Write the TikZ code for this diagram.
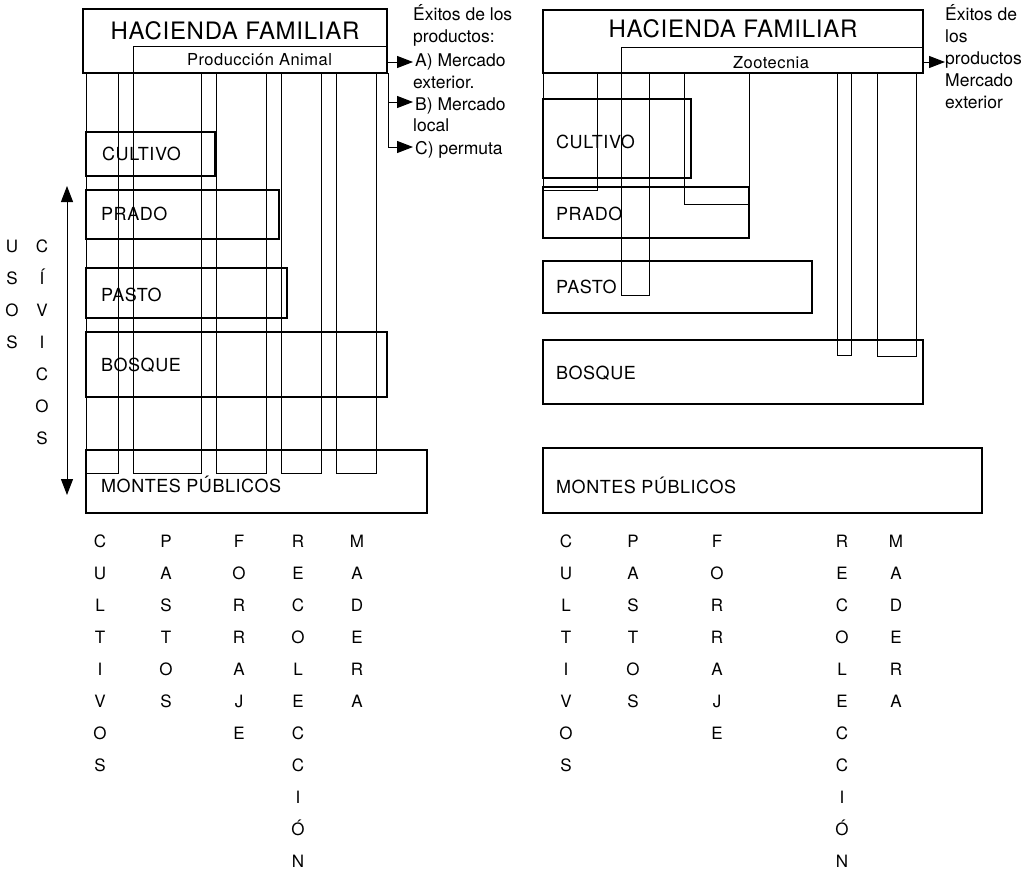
\documentclass[tikz,border=0pt]{standalone}
\usepackage{fontspec}
\setmainfont{TeX Gyre Heros}
\newfontfamily\spaced{TeX Gyre Heros}[LetterSpace=3]
\usetikzlibrary{arrows.meta}
\newcommand\vword[4]{%
  \foreach \l [count=\i] in {#4} {\node[vl] (#1-\i) at (#2, {#3+32*(\i-1)}) {\l};}}
\begin{document}
\begin{tikzpicture}[x=1pt,y=-1pt,
  thickbox/.style={line width=2.6pt},
  thinline/.style={line width=1pt},
  lbl/.style={anchor=base west, inner sep=0pt, font=\spaced\fontsize{18}{18}\selectfont},
  title/.style={anchor=base, inner sep=0pt, font=\spaced\fontsize{24}{24}\selectfont},
  sub/.style={anchor=base, inner sep=0pt, font=\spaced\fontsize{16.5}{16.5}\selectfont},
  note/.style={anchor=base west, inner sep=0pt, font=\fontsize{17.5}{17.5}\selectfont},
  vl/.style={anchor=base, inner sep=0pt, font=\spaced\fontsize{17}{17}\selectfont},
  arr/.style={thinline, -{Triangle[length=16pt,width=12pt]}},
  darr/.style={thinline, {Triangle[length=16pt,width=12pt]}-{Triangle[length=16pt,width=12pt]}}]
\useasboundingbox (0,0) rectangle (1030,870);
\clip (0,0) rectangle (1030,870);

% ================= LEFT PANEL =================
% columns (thin, open at top)
\draw[thinline] (86,73) -- (86,473) -- (118,473) -- (118,73);
\draw[thinline] (133,73) -- (133,473) -- (201,473) -- (201,73);
\draw[thinline] (216,73) -- (216,473) -- (266,473) -- (266,73);
\draw[thinline] (281,73) -- (281,473) -- (321,473) -- (321,73);
\draw[thinline] (336,73) -- (336,473) -- (376,473) -- (376,73);
% header
\draw[thickbox] (83,9) rectangle (387,73);
\draw[thinline] (133,46) rectangle (387,73);
\node[title] (lhf) at (235,39) {HACIENDA FAMILIAR};
\node[sub] (lpa) at (259.5,65) {Producción Animal};
% land boxes
\draw[thickbox] (86,132) rectangle (215,176);
\draw[thickbox] (86,190) rectangle (279,239);
\draw[thickbox] (86,268) rectangle (287,318);
\draw[thickbox] (86,332) rectangle (387,397);
\draw[thickbox] (86,450) rectangle (427,513);
\node[lbl] (lcul) at (102,160) {CULTIVO};
\node[lbl] (lpra) at (101,220) {PRADO};
\node[lbl] (lpas) at (101,301) {PASTO};
\node[lbl] (lbos) at (101,371) {BOSQUE};
\node[lbl] (lmon) at (101,492) {MONTES PÚBLICOS};
% usos civicos
\coordinate (utop) at (67,186);
\coordinate (ubot) at (67,495);
\draw[darr] (utop) -- (ubot);
\vword{usos}{12}{252}{U,S,O,S}
\vword{civ}{42}{252}{C,Í,V,I,C,O,S}
% annotations
\node[note] (ln1) at (413,20) {Éxitos de los};
\node[note] (ln2) at (413,42.5) {productos:};
\node[note] (lna) at (415,66) {A) Mercado};
\node[note] (ln4) at (413,88.5) {exterior.};
\node[note] (lnb) at (415,110) {B) Mercado};
\node[note] (ln6) at (413,131) {local};
\node[note] (lnc) at (415,154) {C) permuta};
\coordinate (lja) at (387,62);
\coordinate (ljt) at (388,73);
\coordinate (ljb) at (388,102);
\coordinate (ljc) at (388,147);
\draw[arr] (lja) -- (413,62);
\draw[thinline] (ljt) -- (ljc);
\draw[arr] (ljb) -- (413,102);
\draw[arr] (ljc) -- (413,147);
% bottom letters
\vword{lc}{100}{547}{C,U,L,T,I,V,O,S}
\vword{lp}{166}{547}{P,A,S,T,O,S}
\vword{lf}{239}{547}{F,O,R,R,A,J,E}
\vword{lr}{298}{547}{R,E,C,O,L,E,C,C,I,Ó,N}
\vword{lm}{357}{547}{M,A,D,E,R,A}

% ================= RIGHT PANEL =================
\draw[thinline] (543,73) -- (543,190) -- (597,190) -- (597,73);
\draw[thinline] (621,73) -- (621,295) -- (649,295) -- (649,73);
\draw[thinline] (684,73) -- (684,204) -- (749,204) -- (749,73);
\draw[thinline] (837,73) -- (837,355) -- (851,355) -- (851,73);
\draw[thinline] (877,73) -- (877,356) -- (916,356) -- (916,73);
\draw[thickbox] (543,10) rectangle (923,73);
\draw[thinline] (621,47) rectangle (923,73);
\node[title] (rhf) at (733,37) {HACIENDA FAMILIAR};
\node[sub] (rzo) at (771,68) {Zootecnia};
\draw[thickbox] (543,99) rectangle (691,178);
\draw[thickbox] (543,187) rectangle (749,238);
\draw[thickbox] (543,261) rectangle (812,313);
\draw[thickbox] (543,340) rectangle (923,404);
\draw[thickbox] (543,448) rectangle (982,513);
\node[lbl] (rcul) at (556,148) {CULTIVO};
\node[lbl] (rpra) at (556,220) {PRADO};
\node[lbl] (rpas) at (556,293) {PASTO};
\node[lbl] (rbos) at (556,379) {BOSQUE};
\node[lbl] (rmon) at (556,493) {MONTES PÚBLICOS};
% annotation
\node[note] (rn1) at (945,20) {Éxitos de};
\node[note] (rn2) at (945,42) {los};
\node[note] (rn3) at (945,64.5) {productos};
\node[note] (rn4) at (945,86.5) {Mercado};
\node[note] (rn5) at (945,108.5) {exterior};
\coordinate (rja) at (923,62);
\draw[arr] (rja) -- (rn3.west |- rja);
% bottom letters
\vword{rc}{566}{547}{C,U,L,T,I,V,O,S}
\vword{rp}{633}{547}{P,A,S,T,O,S}
\vword{rf}{717}{547}{F,O,R,R,A,J,E}
\vword{rr}{842}{547}{R,E,C,O,L,E,C,C,I,Ó,N}
\vword{rm}{896}{547}{M,A,D,E,R,A}
\end{tikzpicture}
\end{document}
